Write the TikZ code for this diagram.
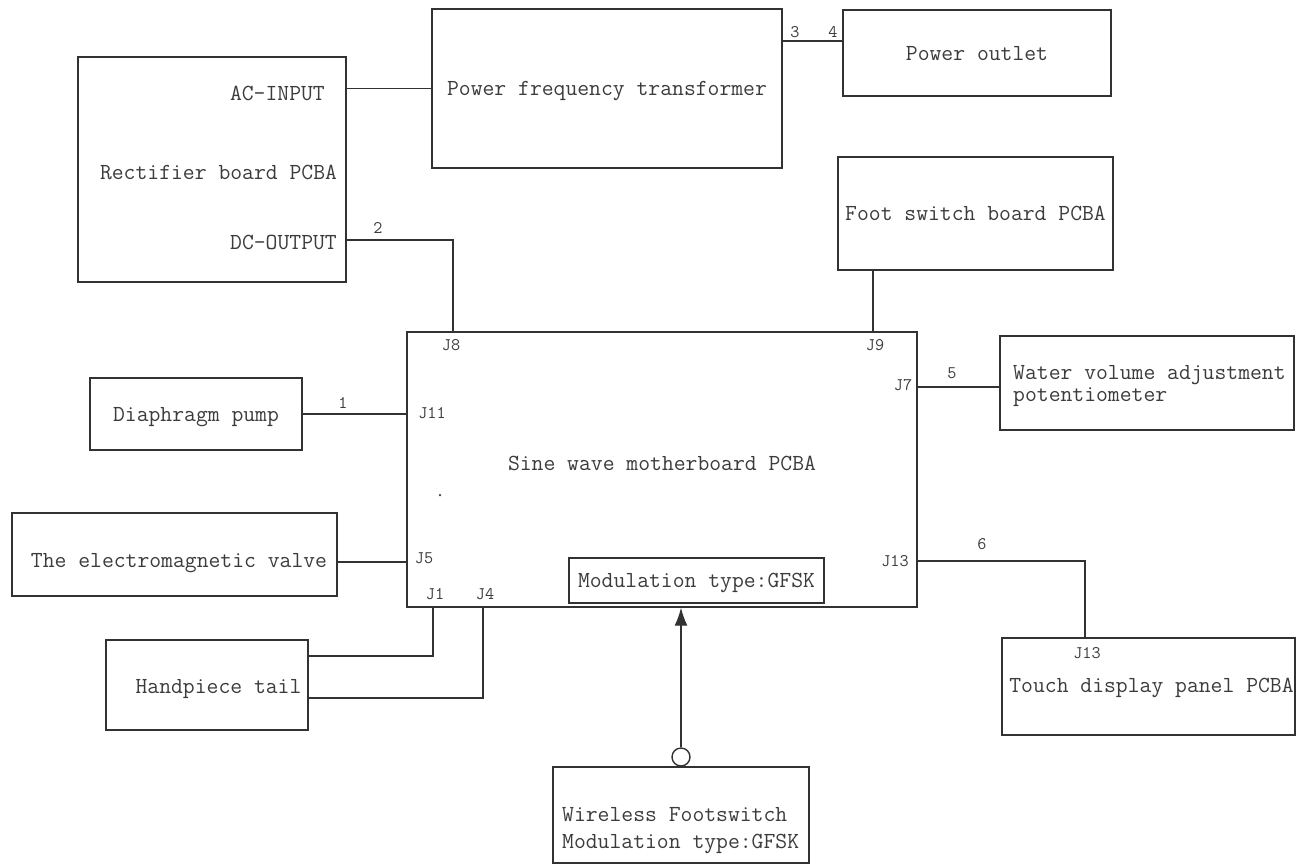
\documentclass[tikz,border=0pt]{standalone}
\usepackage{fontspec}
\usetikzlibrary{arrows.meta,calc}
\definecolor{inkline}{RGB}{50,50,50}
\definecolor{inktext}{RGB}{60,60,60}
\newcommand\maintxt{\ttfamily\fontsize{23}{23}\selectfont}
\newcommand\pintxt{\ttfamily\fontsize{17.7}{17.7}\selectfont}
\tikzset{
 box/.style={draw=inkline, line width=1.4pt, rectangle, inner sep=0pt, font=\maintxt, text=inktext, text height=14.2pt, text depth=0pt},
 txt/.style={inner sep=0pt, font=\maintxt, text=inktext, text height=14.2pt, text depth=0pt},
 pinlbl/.style={inner sep=0pt, font=\pintxt, text=inktext, text height=11pt, text depth=0pt},
 wire/.style={draw=inkline, line width=1.4pt},
}
\begin{document}
\begin{tikzpicture}[x=1pt,y=-1pt]
\useasboundingbox[fill=white] (0,0) rectangle (1297,865);
% boxes
\node[box, minimum width=268pt, minimum height=225pt] (rect) at (212,169.5) {};
\node[txt, anchor=east] (acin) at (325,93) {AC-INPUT};
\node[txt] (rectlbl) at (218.5,172) {Rectifier board PCBA};
\node[txt, anchor=east] (dcout) at (337,242) {DC-OUTPUT};
\node[box, minimum width=350pt, minimum height=159pt] (trans) at (607,88.5) {Power frequency transformer};
\node[box, minimum width=268pt, minimum height=86pt] (outlet) at (977,53) {Power outlet};
\node[box, minimum width=275pt, minimum height=113pt] (foot) at (975.5,213.5) {Foot switch board PCBA};
\node[box, minimum width=510pt, minimum height=275pt] (mb) at (662,469.5) {};
\node[txt] (mblbl) at (662,463) {Sine wave motherboard PCBA};
\node[box, minimum width=294pt, minimum height=94pt] (water) at (1147,383) {};
\node[txt, anchor=west, align=left, font=\ttfamily\fontsize{23}{22}\selectfont, text height=, text depth=] (waterlbl) at (1013,386) {Water volume adjustment\\potentiometer};
\node[box, minimum width=212pt, minimum height=72pt] (pump) at (196,414) {Diaphragm pump};
\node[box, minimum width=325pt, minimum height=83pt] (valve) at (174.5,554.5) {};
\node[txt] (valvelbl) at (179,560) {The electromagnetic valve};
\node[box, minimum width=202pt, minimum height=90pt] (hand) at (207,685) {};
\node[txt] (handlbl) at (218.5,686) {Handpiece tail};
\node[box, minimum width=293pt, minimum height=97pt] (touch) at (1148.5,686.5) {};
\node[txt] (touchlbl) at (1151.5,685) {Touch display panel PCBA};
\node[pinlbl] (tj13) at (1087,653) {J13};
\node[box, minimum width=255pt, minimum height=45pt] (mod) at (696.5,580.5) {Modulation type:GFSK};
\node[box, minimum width=256pt, minimum height=96pt] (wl) at (681,815) {};
\node[txt, anchor=west, align=left, font=\ttfamily\fontsize{23}{27}\selectfont, text height=, text depth=] (wllbl) at (562,831) {Wireless Footswitch\\Modulation type:GFSK};
% pin labels
\node[pinlbl] (l2) at (378,228) {2};
\node[pinlbl] (l3) at (795,32) {3};
\node[pinlbl] (l4) at (833,32) {4};
\node[pinlbl] (l1) at (343,403) {1};
\node[pinlbl] (l5) at (952,373) {5};
\node[pinlbl] (l6) at (982,544) {6};
\node[pinlbl] (j8) at (451,345) {J8};
\node[pinlbl] (j9) at (875,345) {J9};
\node[pinlbl] (j7) at (903,385) {J7};
\node[pinlbl] (j11) at (432,413) {J11};
\node[pinlbl] (j5) at (424,558) {J5};
\node[pinlbl] (j1) at (435,594) {J1};
\node[pinlbl] (j4) at (485,594) {J4};
\node[pinlbl] (j13) at (895,561) {J13};
\node[circle, fill=inktext, inner sep=0pt, minimum size=2.5pt] (dot) at (440,495) {};
% port coordinates
\coordinate (pdc) at (rect.east |- 0,240);
\coordinate (pj8) at (mb.north -| 453,0);
\coordinate (p3) at (trans.east |- 0,41);
\coordinate (p4) at (outlet.west |- 0,41);
\coordinate (pfoot) at (foot.south -| 873,0);
\coordinate (pj9) at (mb.north -| 873,0);
\coordinate (pj7) at (mb.east |- 0,387);
\coordinate (pwater) at (water.west |- 0,387);
\coordinate (pvalve) at (valve.east |- 0,562);
\coordinate (pj5) at (mb.west |- 0,562);
\coordinate (pj1) at (mb.south -| 433,0);
\coordinate (ph1) at (hand.east |- 0,656);
\coordinate (pj4) at (mb.south -| 483,0);
\coordinate (ph4) at (hand.east |- 0,698);
\coordinate (pj13) at (mb.east |- 0,561);
\coordinate (ptouch) at (touch.north -| 1085,0);
% connectors
\draw[wire] (trans.west) -- (trans.west -| rect.east);
\draw[wire] (pdc) -| (pj8);
\draw[wire] (p3) -- (p4);
\draw[wire] (pfoot) -- (pj9);
\draw[wire] (pj7) -- (pwater);
\draw[wire] (pump.east) -- (pump.east -| mb.west);
\draw[wire] (pvalve) -- (pj5);
\draw[wire] (pj1) |- (ph1);
\draw[wire] (pj4) |- (ph4);
\draw[wire] (pj13) -| (ptouch);
\node[draw=inkline, line width=1.4pt, circle, minimum size=18pt, inner sep=0pt, fill=white] (wc) at (681,757) {};
\draw[wire, -{Latex[length=18pt,width=13pt]}] (wc.north) -- (wc.north |- mb.south);
\end{tikzpicture}
\end{document}
